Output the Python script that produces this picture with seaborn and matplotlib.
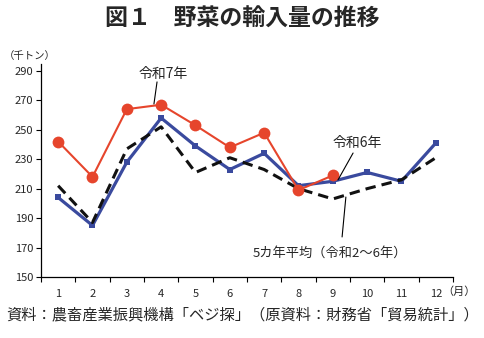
import numpy as np
import pandas as pd
import matplotlib
matplotlib.use("Agg")
import matplotlib.pyplot as plt
import seaborn as sns

months = list(range(1, 13))
month_labels = [str(m) for m in months]
r7 = [242, 218, 264, 267, 253, 238, 248, 209, 219]
r6 = [204, 185, 228, 258, 239, 223, 234, 212, 215, 221, 215, 241]
avg5 = [212, 187, 237, 252, 221, 231, 223, 210, 203, 210, 216, 231]
yticks = [150, 170, 190, 210, 230, 250, 270, 290]

sns.set_theme(style="white")
plt.rcParams['font.family'] = ['Noto Sans CJK JP', 'DejaVu Sans']

df6 = pd.DataFrame({"month": months, "value": r6})
df5 = pd.DataFrame({"month": months, "value": avg5})
df7 = pd.DataFrame({"month": months[:len(r7)], "value": r7})

fig = plt.figure(figsize=(4.85, 3.38), dpi=100)
ax = fig.add_axes([0.0845, 0.1805, 0.8495, 0.6316])

sns.lineplot(data=df6, x="month", y="value", ax=ax, color="#3a4a9e", lw=2.3,
             marker="s", markersize=4, markeredgewidth=0, zorder=2)
sns.lineplot(data=df5, x="month", y="value", ax=ax, color="#111111", lw=2.2,
             zorder=3)
ax.lines[-1].set_dashes([3.4, 2.0])
sns.lineplot(data=df7, x="month", y="value", ax=ax, color="#e6452c", lw=1.5,
             marker="o", markersize=8.5, markeredgewidth=0, zorder=4)

ax.set_xlim(0.5, 12.5)
ax.set_ylim(150, 295)
ax.set_xticks(months)
ax.set_xticklabels(month_labels)
ax.set_xticks(np.arange(0.5, 13.0, 1.0), minor=True)
ax.set_yticks(yticks)
ax.tick_params(axis="x", which="major", length=0, labelsize=8, pad=9)
ax.tick_params(axis="x", which="minor", length=3.5, width=0.8, direction="out", bottom=True, color="black")
ax.tick_params(axis="y", which="major", length=3.5, width=0.8, direction="out", left=True, labelsize=8, pad=2, color="black")
ax.set_xlabel("")
ax.set_ylabel("")
for s in ["top", "right"]:
    ax.spines[s].set_visible(False)
for s in ["left", "bottom"]:
    ax.spines[s].set_color("black")
    ax.spines[s].set_linewidth(0.9)

fig.text(0.5, 0.944, "図１　野菜の輸入量の推移", ha="center", va="center",
         fontsize=16.5, fontweight="bold")
fig.text(0.008, 0.835, "（千トン）", ha="left", va="center", fontsize=7.5)
fig.text(0.911, 0.136, "（月）", ha="left", va="center", fontsize=8)
fig.text(0.5, 0.068, "資料：農畜産業振興機構「ベジ探」（原資料：財務省「貿易統計」）",
         ha="center", va="center", fontsize=11)

# annotations
line_kw = dict(color="black", lw=0.8, zorder=5)
ax.text(4.05, 287.8, "令和7年", fontsize=10, ha="center", va="center")
ax.plot([3.88, 3.79], [282.5, 267.5], **line_kw)
ax.text(9.72, 241, "令和6年", fontsize=10, ha="center", va="center")
ax.plot([9.59, 9.15], [234.2, 215.9], **line_kw)
ax.text(8.92, 166.3, "5カ年平均（令和2～6年）", fontsize=9.5, ha="center", va="center")
ax.plot([9.27, 9.38], [177.2, 204.3], **line_kw)

fig.savefig("out.png", dpi=100)
